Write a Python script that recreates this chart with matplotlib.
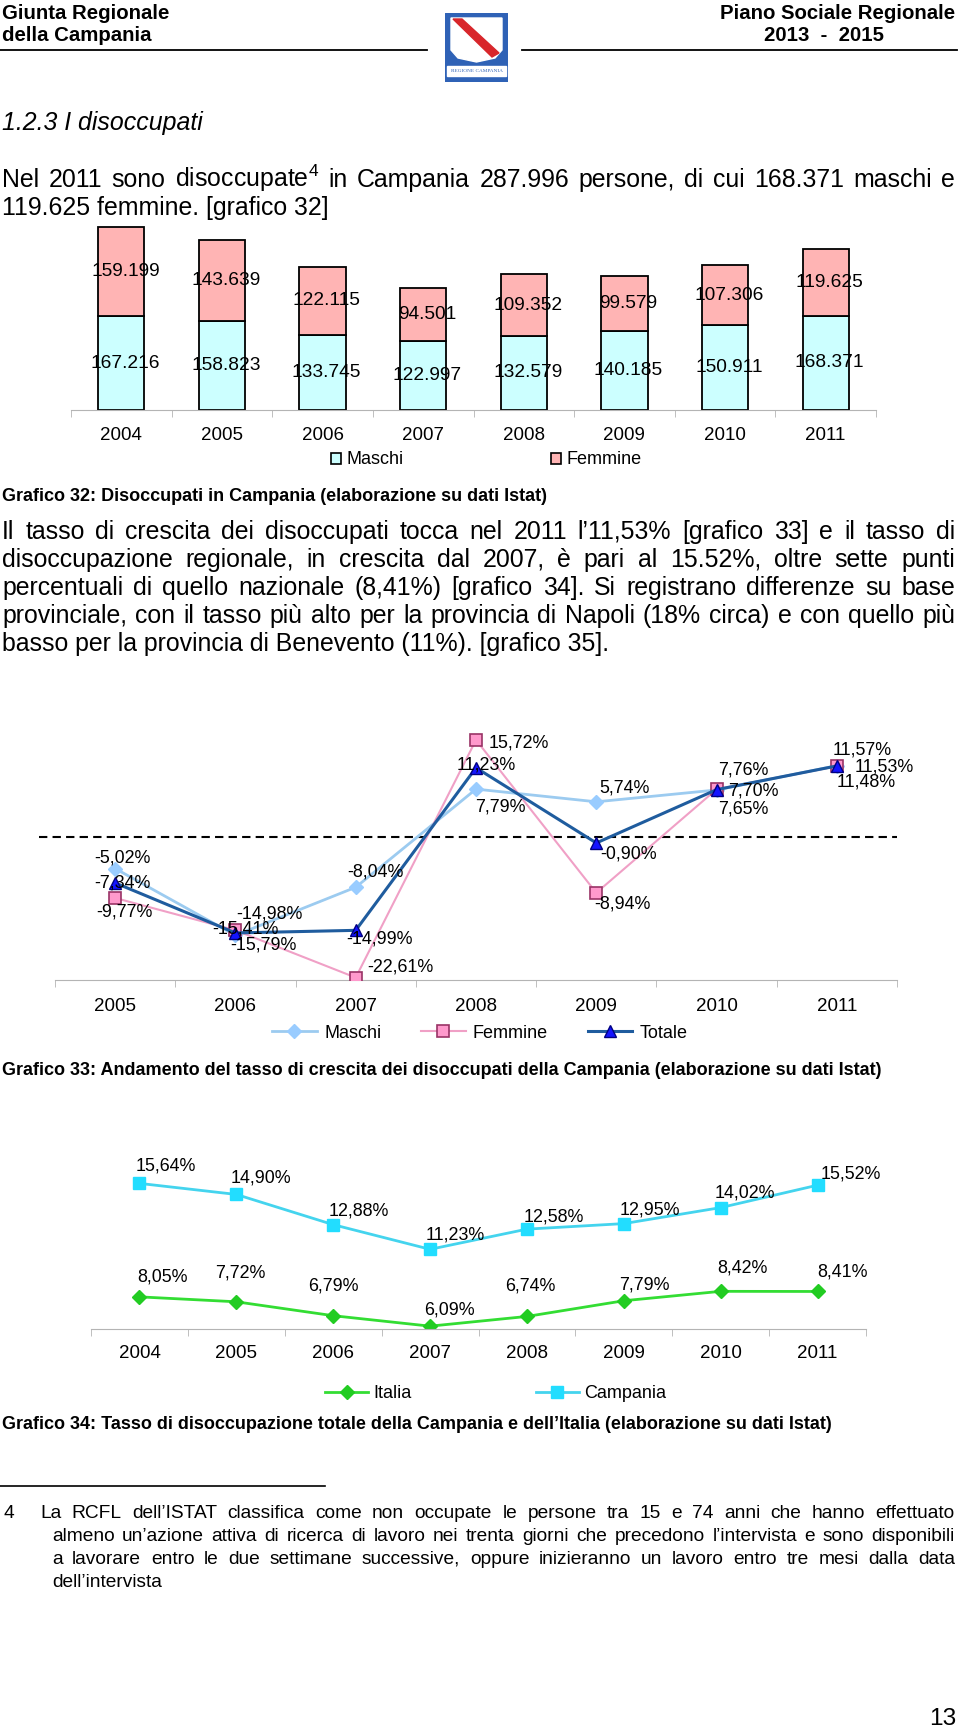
import matplotlib
matplotlib.use('Agg')
import matplotlib.pyplot as plt
from matplotlib import font_manager
from matplotlib.patches import Rectangle, Polygon, Patch
from matplotlib.lines import Line2D

# ---- data -------------------------------------------------------------
anni = ['2004', '2005', '2006', '2007', '2008', '2009', '2010', '2011']
maschi = [167216, 158823, 133745, 122997, 132579, 140185, 150911, 168371]
femmine = [159199, 143639, 122115, 94501, 109352, 99579, 107306, 119625]

anni_var = ['2005', '2006', '2007', '2008', '2009', '2010', '2011']
var_maschi = [-5.02, -15.79, -8.04, 7.79, 5.74, 7.65, 11.57]
var_femmine = [-9.77, -14.98, -22.61, 15.72, -8.94, 7.76, 11.48]
var_totale = [-7.34, -15.41, -14.99, 11.23, -0.90, 7.70, 11.53]

tasso_italia = [8.05, 7.72, 6.79, 6.09, 6.74, 7.79, 8.42, 8.41]
tasso_campania = [15.64, 14.90, 12.88, 11.23, 12.58, 12.95, 14.02, 15.52]

# label offsets in pixels (right, down) as placed in the original charts
off_maschi = [(7, -11), (28, 10), (20, -15), (24, 18), (28, -14), (27, 19), (25, -16)]
off_femmine = [(9, 14), (34, -16), (45, -11), (43, 3), (26, 11), (27, -19), (29, 16)]
off_totale = [(7, 0), (10, -4), (24, 9), (10, -3), (32, 11), (37, 1), (47, 1)]
off_campania = [(26, -17), (25, -16), (26, -14), (25, -14), (27, -12), (26, -14), (24, -15), (33, -11)]
off_italia = [(23, -20), (4, -29), (0, -30), (19, -16), (3, -30), (21, -16), (22, -23), (25, -19)]

W, H = 960, 1730
names = {f.name for f in font_manager.fontManager.ttflist}
SANS = 'Liberation Sans Narrow' if 'Liberation Sans Narrow' in names else 'Liberation Sans'
plt.rcParams['font.family'] = [SANS, 'DejaVu Sans']
plt.rcParams['mathtext.fontset'] = 'custom'
plt.rcParams['mathtext.rm'] = SANS

fig = plt.figure(figsize=(W / 100, H / 100), dpi=100)
fig.patch.set_facecolor('white')
renderer = fig.canvas.get_renderer()


def fx(x):
    return x / W


def fy(y):
    return 1 - y / H


def fit(s, target, **kw):
    # font size (pt) that gives the string the width it has on the page
    t = fig.text(0, 0, s, fontsize=10, **kw)
    w = t.get_window_extent(renderer).width
    t.remove()
    return 10 * target / w


def put(x, y, s, size, **kw):
    # y = visual middle of the line (pixels from top), turned into a baseline
    base = y + 0.36 * size * 100 / 72
    return fig.text(fx(x), fy(base), s, fontsize=size, va='baseline', **kw)


def justify(line, x0, x1, y, size, **kw):
    ts = [put(x0, y, w, size, **kw) for w in line.split(' ')]
    wd = [t.get_window_extent(renderer).width for t in ts]
    gap = (x1 - x0 - sum(wd)) / (len(ts) - 1)
    x = x0
    for t, w in zip(ts, wd):
        t.set_x(fx(x))
        x += w + gap


def add_ax(left, top, width, height):
    return fig.add_axes([fx(left), fy(top + height), width / W, height / H])


def style_axis(ax, labels, dist, size):
    # dist = distance in px from the axis line to the middle of the year labels
    n = len(labels)
    for s in ['top', 'right', 'left']:
        ax.spines[s].set_visible(False)
    ax.spines['bottom'].set_color('#B4B4B4')
    ax.set_xlim(-0.5, n - 0.5)
    ax.set_xticks(range(n))
    ax.set_xticklabels(labels)
    ax.set_xticks([i - 0.5 for i in range(n + 1)], minor=True)
    pad = (dist - 0.55 * size * 100 / 72) * 0.72
    ax.tick_params(axis='x', which='major', length=0, pad=pad, labelsize=size)
    ax.tick_params(axis='x', which='minor', length=5, color='#B4B4B4')
    ax.set_yticks([])
    ax.patch.set_alpha(0)


def pct(v):
    return f'{v:.2f}%'.replace('.', ',')


foot = ['La RCFL dell’ISTAT classifica come non occupate le persone tra 15 e 74 anni che hanno effettuato',
        'almeno un’azione attiva di ricerca di lavoro nei trenta giorni che precedono l’intervista e sono disponibili',
        'a lavorare entro le due settimane successive, oppure inizieranno un lavoro entro tre mesi dalla data',
        'dell’intervista']

HEAD = fit('Piano Sociale Regionale', 235, weight='bold')
TITLE = fit('1.2.3 I disoccupati', 202, style='italic')
BODY = fit('basso per la provincia di Benevento (11%). [grafico 35].', 610)
CAP = fit('Grafico 33: Andamento del tasso di crescita dei disoccupati della Campania '
          '(elaborazione su dati Istat)', 880, weight='bold')
FN = fit(foot[1], 880)
LAB1 = fit('167.216', 69)
LAB = fit('-22,61%', 67)
YEAR = fit('2004', 42)
LEG = fit('Campania', 82)
PAGE = fit('13', 27)

# ---- page header ------------------------------------------------------
put(2, 12, 'Giunta Regionale', HEAD, weight='bold')
put(2, 34, 'della Campania', HEAD, weight='bold')
put(955, 12, 'Piano Sociale Regionale', HEAD, weight='bold', ha='right')
put(824, 34, '2013  -  2015', HEAD, weight='bold', ha='center')
fig.add_artist(Line2D([0, fx(427)], [fy(50), fy(50)], color='black', lw=1.3))
fig.add_artist(Line2D([fx(522), fx(957)], [fy(50), fy(50)], color='black', lw=1.3))

# regional logo
axl = add_ax(445, 13, 63, 69)
axl.set_xlim(0, 63)
axl.set_ylim(69, 0)
axl.axis('off')
axl.add_patch(Rectangle((0, 0), 63, 69, color='#2F62B6'))
axl.add_patch(Polygon([(6, 5), (57, 5), (57, 37), (50, 45), (31.5, 49), (13, 45), (6, 37)],
                      color='white'))
axl.add_patch(Polygon([(8, 6), (17, 6), (54, 40), (47, 44)], color='#D8262B'))
axl.add_patch(Rectangle((2, 53), 59, 10, color='white'))
axl.text(31.5, 58, 'REGIONE CAMPANIA', fontsize=3.8, ha='center', va='center',
         color='#2F62B6', family=['Liberation Serif', 'DejaVu Serif'])

# ---- text -------------------------------------------------------------
put(2, 121, '1.2.3 I disoccupati', TITLE, style='italic')
justify('Nel 2011 sono disoccupate$^{4}$ in Campania 287.996 persone, di cui 168.371 maschi e',
        2, 955, 178, BODY)
put(2, 206, '119.625 femmine. [grafico 32]', BODY)

# ---- Grafico 32: stacked bars ------------------------------------------
h1 = 183 * 340000 / 326415
ax1 = add_ax(71, 410 - h1, 805, h1)
x8 = list(range(len(anni)))
ax1.bar(x8, maschi, width=0.46, color='#CCFFFF', edgecolor='black', lw=1.3, label='Maschi')
ax1.bar(x8, femmine, width=0.46, bottom=maschi, color='#FFB4B4', edgecolor='black', lw=1.3,
        label='Femmine')
for i in x8:
    ax1.text(i + 0.04, maschi[i] / 2, f'{maschi[i]:,}'.replace(',', '.'), ha='center',
             va='center', fontsize=LAB1)
    ax1.text(i + 0.04, maschi[i] + femmine[i] / 2, f'{femmine[i]:,}'.replace(',', '.'),
             ha='center', va='center', fontsize=LAB1)
ax1.set_ylim(0, 340000)
style_axis(ax1, anni, 27, YEAR)
fig.legend(handles=[Patch(fc='#CCFFFF', ec='black', lw=1.2), Patch(fc='#FFB4B4', ec='black', lw=1.2)],
           labels=['Maschi', 'Femmine'], loc='center left', bbox_to_anchor=(fx(331), fy(460)),
           ncol=2, frameon=False, fontsize=LEG, handlelength=0.55, handleheight=0.55,
           handletextpad=0.3, columnspacing=8.2, borderpad=0, borderaxespad=0)

put(2, 495, 'Grafico 32: Disoccupati in Campania (elaborazione su dati Istat)', CAP, weight='bold')

para = ['Il tasso di crescita dei disoccupati tocca nel 2011 l’11,53% [grafico 33] e il tasso di',
        'disoccupazione regionale, in crescita dal 2007, è pari al 15.52%, oltre sette punti',
        'percentuali di quello nazionale (8,41%) [grafico 34]. Si registrano differenze su base',
        'provinciale, con il tasso più alto per la provincia di Napoli (18% circa) e con quello più']
for k, line in enumerate(para):
    justify(line, 2, 955, 530 + 28 * k, BODY)
put(2, 530 + 28 * 4, 'basso per la provincia di Benevento (11%). [grafico 35].', BODY)

# ---- Grafico 33: growth rates ------------------------------------------
ax2 = add_ax(55, 980 - 45 * 6.2, 842, 45 * 6.2)
x7 = list(range(len(anni_var)))
ax2.axhline(0, xmin=-0.019, xmax=1, color='black', lw=1.5, dashes=(4, 2.5), clip_on=False)
ax2.plot(x7, var_maschi, color='#9CCBF0', lw=2, marker='D', ms=7, mfc='#99CCFF', mec='#99CCFF',
         label='Maschi', zorder=3)
ax2.plot(x7, var_femmine, color='#F0A0C6', lw=1.5, marker='s', ms=8, mfc='#FF99CC', mec='#993366',
         mew=1.2, label='Femmine', zorder=4)
ax2.plot(x7, var_totale, color='#1F5C9E', lw=2.2, marker='^', ms=9, mfc='#1414FF', mec='#000080',
         mew=1, label='Totale', zorder=5)
for vals, offs in [(var_maschi, off_maschi), (var_femmine, off_femmine), (var_totale, off_totale)]:
    for i, (v, (dx, dy)) in enumerate(zip(vals, offs)):
        ax2.annotate(pct(v), (i, v), xytext=(dx, -dy), textcoords='offset pixels',
                     ha='center', va='center', fontsize=LAB, zorder=6)
ax2.set_ylim(-23, 22)
style_axis(ax2, anni_var, 28, YEAR)
ax2.legend(loc='center left', bbox_to_anchor=(fx(272), fy(1033)), bbox_transform=fig.transFigure,
           ncol=3, frameon=False, fontsize=LEG, handlelength=2.5, handletextpad=0.4,
           columnspacing=2.2, borderpad=0, borderaxespad=0)

put(2, 1069, 'Grafico 33: Andamento del tasso di crescita dei disoccupati della Campania '
             '(elaborazione su dati Istat)', CAP, weight='bold')

# ---- Grafico 34: unemployment rate -------------------------------------
h3 = 12 * 14.95
ax3 = add_ax(91, 1329 - h3, 775, h3)
ax3.plot(x8, tasso_italia, color='#33DD33', lw=2, marker='D', ms=7.5, mfc='#22CC22', mec='#22CC22',
         label='Italia')
ax3.plot(x8, tasso_campania, color='#44D4EE', lw=2, marker='s', ms=8, mfc='#22DDFF', mec='#22DDFF',
         label='Campania')
for vals, offs in [(tasso_campania, off_campania), (tasso_italia, off_italia)]:
    for i, (v, (dx, dy)) in enumerate(zip(vals, offs)):
        ax3.annotate(pct(v), (i, v), xytext=(dx, -dy), textcoords='offset pixels',
                     ha='center', va='center', fontsize=LAB)
ax3.set_ylim(5.9, 17.9)
style_axis(ax3, anni, 26, YEAR)
ax3.legend(loc='center left', bbox_to_anchor=(fx(325), fy(1394)), bbox_transform=fig.transFigure,
           ncol=2, frameon=False, fontsize=LEG, handlelength=2.4, handletextpad=0.3,
           columnspacing=6.9, borderpad=0, borderaxespad=0)

put(2, 1423, 'Grafico 34: Tasso di disoccupazione totale della Campania e dell’Italia '
             '(elaborazione su dati Istat)', CAP, weight='bold')

# ---- footnote ---------------------------------------------------------
fig.add_artist(Line2D([0, fx(325)], [fy(1486), fy(1486)], color='black', lw=1.2))
put(3, 1511, '4', FN)
justify(foot[0], 40, 955, 1511, FN)
justify(foot[1], 52, 955, 1534, FN)
justify(foot[2], 52, 955, 1557, FN)
put(52, 1580, foot[3], FN)

put(956, 1716, '13', PAGE, ha='right')

fig.savefig('out.png', dpi=100, facecolor='white')
